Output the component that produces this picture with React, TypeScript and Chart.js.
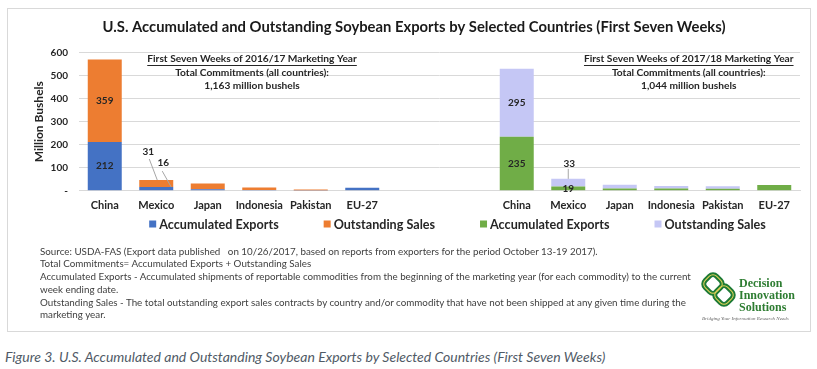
import { useEffect, useRef } from 'react';
import { Chart, registerables } from 'chart.js';

Chart.register(...registerables);

// ---------- data ----------
const categories = ['China', 'Mexico', 'Japan', 'Indonesia', 'Pakistan', 'EU-27'];
const accumulated1617 = [212, 16, 7, 4, 1, 13];
const outstanding1617 = [359, 31, 25, 10, 5, 0];
const accumulated1718 = [235, 19, 10, 10, 9, 25];
const outstanding1718 = [295, 33, 16, 11, 11, 0];
const yTicks = [0, 100, 200, 300, 400, 500, 600];

const TITLE = 'U.S. Accumulated and Outstanding Soybean Exports by Selected Countries (First Seven Weeks)';
const note1617 = ['First Seven Weeks of 2016/17 Marketing Year', 'Total Commitments (all countries):', '1,163 million bushels'];
const note1718 = ['First Seven Weeks of 2017/18 Marketing Year', 'Total Commitments (all countries):', '1,044 million bushels'];
const sourceLines = [
  'Source: USDA-FAS (Export data published   on 10/26/2017, based on reports from exporters for the period October 13-19 2017).',
  'Total Commitments= Accumulated Exports + Outstanding Sales',
  'Accumulated Exports - Accumulated shipments of reportable commodities from the beginning of the marketing year (for each commodity) to the current',
  'week ending date.',
  'Outstanding Sales - The total outstanding export sales contracts by country and/or commodity that have not been shipped at any given time during the',
  'marketing year.',
];
const CAPTION = 'Figure 3. U.S. Accumulated and Outstanding Soybean Exports by Selected Countries (First Seven Weeks)';

// ---------- styling ----------
const FONT = 'Lato, "Open Sans", sans-serif';
const BLUE = '#4472C4';
const ORANGE = '#ED7D31';
const GREEN = '#70AD47';
const LAVENDER = '#C5C7F5';
const GRID = '#d9d9d9';
const TEXT = '#262626';

// which bar segments carry a value label; callout = [labelDx, labelDy, lineX1, lineY1, lineX2, lineY2] relative to segment top-centre
const valueLabels: { ds: number; i: number; callout?: number[] }[] = [
  { ds: 0, i: 0 },
  { ds: 1, i: 0 },
  { ds: 2, i: 8 },
  { ds: 3, i: 8 },
  { ds: 2, i: 9 },
  { ds: 1, i: 1, callout: [-8, -28, -7, -21, 1, 0] },
  { ds: 0, i: 1, callout: [7, -24, 6, -16, 15, 0] },
  { ds: 3, i: 9, callout: [1, -15, 0, -10, 0, 0] },
];

const labelPlugin = {
  id: 'valueLabels',
  afterDatasetsDraw(chart: any) {
    const ctx = chart.ctx;
    ctx.save();
    ctx.font = `bold 10px ${FONT}`;
    ctx.fillStyle = TEXT;
    ctx.textAlign = 'center';
    ctx.textBaseline = 'middle';
    for (const l of valueLabels) {
      const el = chart.getDatasetMeta(l.ds).data[l.i];
      const v = chart.data.datasets[l.ds].data[l.i];
      if (!el || v == null) continue;
      const { x, y, base } = el.getProps(['x', 'y', 'base'], true);
      if (l.callout) {
        const [dx, dy, x1, y1, x2, y2] = l.callout;
        ctx.strokeStyle = '#a6a6a6';
        ctx.lineWidth = 1;
        ctx.beginPath();
        ctx.moveTo(x + x1, y + y1);
        ctx.lineTo(x + x2, y + y2);
        ctx.stroke();
        ctx.fillText(String(v), x + dx, y + dy);
      } else {
        ctx.fillText(String(v), x, (y + base) / 2);
      }
    }
    ctx.restore();
  },
};

const notes = [
  { lines: note1617, at: 2.86 },
  { lines: note1718, at: 11.34 },
];
const noteOffsets = [6, 20, 33];

const notesPlugin = {
  id: 'notes',
  afterDraw(chart: any) {
    const ctx = chart.ctx;
    const xs = chart.scales.x;
    const top = chart.chartArea.top;
    ctx.save();
    ctx.font = `bold 10.2px ${FONT}`;
    ctx.fillStyle = TEXT;
    ctx.textAlign = 'center';
    ctx.textBaseline = 'middle';
    for (const n of notes) {
      const cx = xs.getPixelForValue(n.at);
      n.lines.forEach((t, k) => {
        const y = top + noteOffsets[k];
        ctx.fillText(t, cx, y);
        if (k === 0) {
          const w = ctx.measureText(t).width;
          ctx.strokeStyle = TEXT;
          ctx.lineWidth = 1;
          ctx.beginPath();
          ctx.moveTo(cx - w / 2, Math.round(y + 6) + 0.5);
          ctx.lineTo(cx + w / 2, Math.round(y + 6) + 0.5);
          ctx.stroke();
        }
      });
    }
    ctx.restore();
  },
};

const legendPlugin = {
  id: 'customLegend',
  afterDraw(chart: any) {
    const ctx = chart.ctx;
    const { left, right } = chart.chartArea;
    const y = chart.scales.x.bottom + 4;
    ctx.save();
    ctx.font = `bold 12.6px ${FONT}`;
    ctx.textBaseline = 'middle';
    ctx.textAlign = 'left';
    const box = 7, textGap = 3, itemGap = 45;
    const items = chart.data.datasets.map((d: any) => ({ text: d.label, color: d.backgroundColor, w: ctx.measureText(d.label).width }));
    const total = items.reduce((s: number, it: any) => s + box + textGap + it.w, 0) + itemGap * (items.length - 1);
    let x = left + (right - left) * 0.525 - total / 2;
    for (const it of items) {
      ctx.fillStyle = it.color;
      ctx.fillRect(x, y - box / 2, box, box);
      ctx.fillStyle = TEXT;
      ctx.fillText(it.text, x + box + textGap, y + 1);
      x += box + textGap + it.w + itemGap;
    }
    ctx.restore();
  },
};

export default function App() {
  const ref = useRef<HTMLCanvasElement>(null);
  useEffect(() => {
    const gap = [null, null];
    const empty = categories.map(() => null);
    const labels = [...categories, '', '', ...categories];
    const chart = new Chart(ref.current as HTMLCanvasElement, {
      type: 'bar',
      data: {
        labels,
        datasets: [
          { label: 'Accumulated Exports', data: [...accumulated1617, ...gap, ...empty], backgroundColor: BLUE },
          { label: 'Outstanding Sales', data: [...outstanding1617, ...gap, ...empty], backgroundColor: ORANGE },
          { label: 'Accumulated Exports', data: [...empty, ...gap, ...accumulated1718], backgroundColor: GREEN },
          { label: 'Outstanding Sales', data: [...empty, ...gap, ...outstanding1718], backgroundColor: LAVENDER },
        ],
      } as any,
      options: {
        animation: false,
        responsive: false,
        datasets: { bar: { barPercentage: 0.66, categoryPercentage: 1 } },
        layout: { padding: { left: 20, right: 9, top: 0, bottom: 29 } },
        plugins: {
          legend: { display: false },
          tooltip: { enabled: false },
          title: {
            display: true,
            text: TITLE,
            color: '#1a1a1a',
            font: { family: FONT, size: 14.8, weight: 'bold' },
            padding: { top: 9, bottom: 17 },
          },
        },
        scales: {
          x: {
            stacked: true,
            grid: { display: false, drawTicks: false },
            border: { color: GRID },
            ticks: { color: TEXT, font: { family: FONT, size: 11, weight: 'bold' }, padding: 8, autoSkip: false, maxRotation: 0 },
          },
          y: {
            stacked: true,
            min: 0,
            max: 600,
            afterFit: (s: any) => { s.width = 51; },
            afterBuildTicks: (s: any) => { s.ticks = yTicks.map((v) => ({ value: v })); },
            grid: { color: GRID, drawTicks: false },
            border: { display: false },
            ticks: {
              color: TEXT,
              padding: 11,
              font: { family: FONT, size: 10, weight: 'bold' },
              callback: (v: any) => (Number(v) === 0 ? '-' : String(v)),
            },
            title: { display: true, text: 'Million Bushels', color: TEXT, font: { family: FONT, size: 12, weight: 'bold' } },
          },
        },
      } as any,
      plugins: [labelPlugin, notesPlugin, legendPlugin],
    });
    return () => chart.destroy();
  }, []);

  return (
    <div style={{ position: 'fixed', left: 0, top: 0, width: 817, height: 369, background: '#fff', fontFamily: FONT, overflow: 'hidden' }}>
      <div style={{ position: 'absolute', left: 7, top: 8, width: 804, height: 324, border: '1px solid #d9d9d9', boxSizing: 'border-box' }} />
      <canvas ref={ref} width={801} height={240} style={{ position: 'absolute', left: 8, top: 9, width: 801, height: 240 }} />
      <div style={{ position: 'absolute', left: 40, top: 244.5, fontSize: 9.8, lineHeight: '12.8px', color: '#404040', whiteSpace: 'pre' }}>
        {sourceLines.map((t, k) => (
          <div key={k}>{t}</div>
        ))}
      </div>
      <svg width={38} height={36} viewBox="0 0 38 36" style={{ position: 'absolute', left: 700, top: 272 }}>
        <g fill="none">
          <rect x={5} y={4} width={16} height={16} rx={5} transform="rotate(45 13 12)" stroke="#1d7a36" strokeWidth={5} />
          <rect x={16} y={15} width={16} height={16} rx={5} transform="rotate(45 24 23)" stroke="#1d7a36" strokeWidth={5} />
          <rect x={5} y={4} width={16} height={16} rx={5} transform="rotate(45 13 12)" stroke="#e6d458" strokeWidth={1} />
          <rect x={16} y={15} width={16} height={16} rx={5} transform="rotate(45 24 23)" stroke="#e6d458" strokeWidth={1} />
        </g>
      </svg>
      <div style={{ position: 'absolute', left: 739, top: 278, fontFamily: '"Liberation Serif", "DejaVu Serif", serif', fontWeight: 'bold', fontSize: 12, lineHeight: '11.8px', color: '#2e7d32' }}>
        <div>Decision</div>
        <div>Innovation</div>
        <div>Solutions</div>
      </div>
      <div style={{ position: 'absolute', left: 702, top: 316, fontFamily: '"Liberation Serif", serif', fontStyle: 'italic', fontSize: 5, color: '#666', whiteSpace: 'nowrap' }}>
        Bridging Your Information Research Needs
      </div>
      <div style={{ position: 'absolute', left: 5, top: 349, fontSize: 14, lineHeight: '16px', fontStyle: 'italic', color: '#505a66', whiteSpace: 'nowrap' }}>
        {CAPTION}
      </div>
    </div>
  );
}
